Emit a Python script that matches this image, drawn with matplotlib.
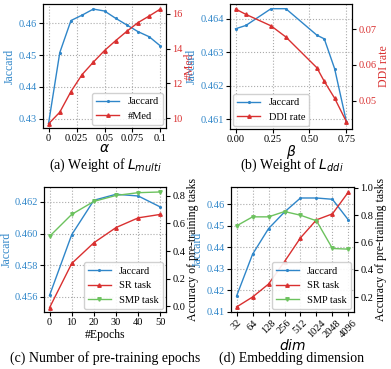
import matplotlib
matplotlib.use("Agg")
import matplotlib.pyplot as plt

plt.rcParams["font.family"] = ["Liberation Serif", "DejaVu Serif"]
plt.rcParams["mathtext.fontset"] = "dejavusans"
plt.rcParams["font.size"] = 8

BLUE = "#2f86c9"
RED = "#d93030"
GREEN = "#6cc25e"

TICK = 7.5
YLAB = 8.5
LEG = 7.5
TITLE = 10

# (a) weight of L_multi
alpha = [0, 0.01, 0.02, 0.03, 0.04, 0.05, 0.06, 0.07, 0.08, 0.09, 0.1]
jac_a = [0.4286, 0.4508, 0.4609, 0.4626, 0.4645, 0.4639, 0.4616, 0.4595, 0.4574, 0.4558, 0.4529]
med_a = [9.67, 10.34, 11.53, 12.51, 13.22, 13.89, 14.46, 15.0, 15.5, 15.88, 16.28]

# (b) weight of L_ddi
beta = [0, 0.07, 0.24, 0.34, 0.55, 0.6, 0.67, 0.75]
jac_b = [0.46370, 0.46380, 0.46430, 0.46430, 0.46351, 0.46340, 0.46251, 0.46092]
ddi_b = [0.0756, 0.0741, 0.0709, 0.0678, 0.0592, 0.0554, 0.0507, 0.0441]

# (c) number of pre-training epochs
epochs = [0, 10, 20, 30, 40, 50]
jac_c = [0.45608, 0.45993, 0.46211, 0.46249, 0.46238, 0.46168]
sr_c = [-0.01, 0.31, 0.46, 0.57, 0.64, 0.665]
smp_c = [0.506, 0.665, 0.759, 0.802, 0.822, 0.827]

# (d) embedding dimension
dims = ["32", "64", "128", "256", "512", "1024", "2048", "4096"]
jac_d = [0.4174, 0.4368, 0.4487, 0.4564, 0.4629, 0.4629, 0.4623, 0.4527]
sr_d = [0.127, 0.2, 0.295, 0.46, 0.634, 0.766, 0.81, 0.97]
smp_d = [0.722, 0.788, 0.788, 0.827, 0.8, 0.759, 0.556, 0.551]

fig = plt.figure(figsize=(3.91, 3.69), dpi=100)
W, H = 391, 369


def make_ax(l, t, r, b):
    return fig.add_axes([l / W, 1 - b / H, (r - l) / W, (b - t) / H])


def style(ax):
    ax.grid(True, linestyle=":", color="#aaaaaa", linewidth=0.8)
    ax.tick_params(labelsize=TICK, length=3, pad=1.5)


def style_right(ax2, color=None):
    ax2.tick_params(axis="y", labelsize=TICK, length=3, pad=1.5)
    if color:
        ax2.tick_params(axis="y", labelcolor=color)


line_kw = dict(linewidth=1.0, markersize=2.5)
leg_kw = dict(fontsize=LEG, framealpha=0.9, borderaxespad=0.3, handlelength=2.2)

# ---- (a)
ax = make_ax(43, 4, 166, 128)
style(ax)
l1, = ax.plot(alpha, jac_a, color=BLUE, marker=".", label="Jaccard", **line_kw)
ax.set_ylim(0.4271, 0.4661)
ax.set_yticks([0.43, 0.44, 0.45, 0.46])
ax.set_xticks([0, 0.025, 0.05, 0.075, 0.1])
ax.set_xticklabels(["0", "0.025", "0.05", "0.075", "0.1"])
ax.set_ylabel("Jaccard", color=BLUE, fontsize=YLAB, labelpad=2)
ax.tick_params(axis="y", labelcolor=BLUE)
ax.set_xlabel(r"$\alpha$", fontsize=10, labelpad=-1)
ax2 = ax.twinx()
l2, = ax2.plot(alpha, med_a, color=RED, marker="^", label="#Med", **line_kw)
ax2.set_ylim(9.43, 16.57)
ax2.set_yticks([10, 12, 14, 16])
ax2.set_ylabel("#Med", color=RED, fontsize=YLAB, labelpad=1)
style_right(ax2, RED)
ax2.legend(handles=[l1, l2], loc="lower right", **leg_kw)
fig.text(105 / W, 1 - 169 / H, "(a) Weight of $L_{multi}$", ha="center", fontsize=TITLE)

# ---- (b)
ax = make_ax(230, 4, 352, 129)
style(ax)
l1, = ax.plot(beta, jac_b, color=BLUE, marker=".", label="Jaccard", **line_kw)
ax.set_ylim(0.46071, 0.46444)
ax.set_yticks([0.461, 0.462, 0.463, 0.464])
ax.set_xticks([0, 0.25, 0.5, 0.75])
ax.set_xticklabels(["0.00", "0.25", "0.50", "0.75"])
ax.set_ylabel("Jaccard", color=BLUE, fontsize=YLAB, labelpad=2)
ax.tick_params(axis="y", labelcolor=BLUE)
ax.set_xlabel(r"$\beta$", fontsize=10, labelpad=-1)
ax2 = ax.twinx()
l2, = ax2.plot(beta, ddi_b, color=RED, marker="^", label="DDI rate", **line_kw)
ax2.set_ylim(0.0421, 0.0770)
ax2.set_yticks([0.05, 0.06, 0.07])
ax2.set_ylabel("DDI rate", color=RED, fontsize=YLAB, labelpad=1)
style_right(ax2, RED)
ax2.legend(handles=[l1, l2], loc="lower left", **leg_kw)
fig.text(292 / W, 1 - 169 / H, "(b) Weight of $L_{ddi}$", ha="center", fontsize=TITLE)

# ---- (c)
ax = make_ax(44, 187, 166, 312)
style(ax)
l1, = ax.plot(epochs, jac_c, color=BLUE, marker=".", label="Jaccard", **line_kw)
ax.set_ylim(0.45503, 0.46295)
ax.set_yticks([0.456, 0.458, 0.460, 0.462])
ax.set_xticks(epochs)
ax.set_ylabel("Jaccard", color=BLUE, fontsize=YLAB, labelpad=1)
ax.tick_params(axis="y", labelcolor=BLUE)
ax.set_xlabel("#Epochs", fontsize=YLAB, labelpad=1)
ax2 = ax.twinx()
l2, = ax2.plot(epochs, sr_c, color=RED, marker="^", label="SR task", **line_kw)
l3, = ax2.plot(epochs, smp_c, color=GREEN, marker="v", label="SMP task", **line_kw)
ax2.set_ylim(-0.041, 0.863)
ax2.set_yticks([0.0, 0.2, 0.4, 0.6, 0.8])
ax2.set_ylabel("Accuracy of pre-training tasks", fontsize=YLAB, labelpad=1)
style_right(ax2)
ax2.legend(handles=[l1, l2, l3], loc="lower right", **leg_kw)
fig.text(105 / W, 1 - 362 / H, "(c) Number of pre-training epochs", ha="center", fontsize=TITLE)

# ---- (d)
ax = make_ax(231, 187, 354, 312)
style(ax)
pos = list(range(len(dims)))
l1, = ax.plot(pos, jac_d, color=BLUE, marker=".", label="Jaccard", **line_kw)
ax.set_ylim(0.41, 0.468)
ax.set_yticks([0.41, 0.42, 0.43, 0.44, 0.45, 0.46])
ax.set_xticks(pos)
ax.set_xticklabels(dims, rotation=45, fontsize=TICK, ha="center")
ax.set_ylabel("Jaccard", color=BLUE, fontsize=YLAB, labelpad=2)
ax.tick_params(axis="y", labelcolor=BLUE)
ax.set_xlabel(r"$dim$", fontsize=10, labelpad=-1)
ax2 = ax.twinx()
l2, = ax2.plot(pos, sr_d, color=RED, marker="^", label="SR task", **line_kw)
l3, = ax2.plot(pos, smp_d, color=GREEN, marker="v", label="SMP task", **line_kw)
ax2.set_ylim(0.09, 1.007)
ax2.set_yticks([0.2, 0.4, 0.6, 0.8, 1.0])
ax2.set_ylabel("Accuracy of pre-training tasks", fontsize=YLAB, labelpad=1)
style_right(ax2)
ax2.legend(handles=[l1, l2, l3], loc="lower right", **leg_kw)
fig.text(292 / W, 1 - 362 / H, "(d) Embedding dimension", ha="center", fontsize=TITLE)

fig.savefig("out.png", dpi=100)
